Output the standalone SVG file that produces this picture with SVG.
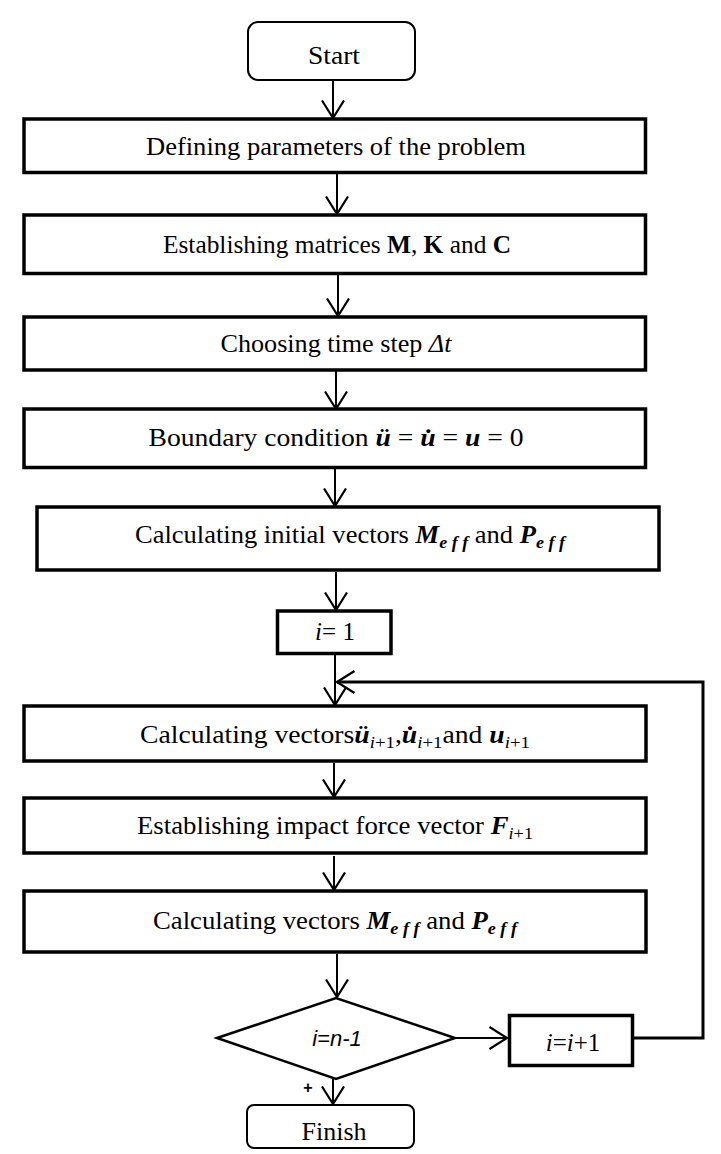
<svg xmlns="http://www.w3.org/2000/svg" width="721" height="1154" viewBox="0 0 721 1154">
<defs>
<style>
.box{fill:#fff;stroke:#000;stroke-width:3.5}
.rnd{fill:#fff;stroke:#000;stroke-width:2}
.dia{fill:#fff;stroke:#000;stroke-width:2.5}
.con{fill:none;stroke:#000;stroke-width:2}
.t{font-family:"Liberation Serif","Times New Roman",serif;font-size:25px;fill:#000;text-anchor:middle}
.m{font-weight:bold;font-style:italic}
.b{font-weight:bold}
.it{font-style:italic}
.sub{font-size:17px}
</style>
<marker id="ah" viewBox="0 0 20 24" refX="18.5" refY="12" markerWidth="20" markerHeight="24" markerUnits="userSpaceOnUse" orient="auto">
<path d="M1,1 L18.5,12 L1,23" fill="none" stroke="#000" stroke-width="2.2"/>
</marker>
</defs>
<g id="connectors">
<line class="con" x1="333" y1="81" x2="333" y2="118" marker-end="url(#ah)"/>
<line class="con" x1="337" y1="174" x2="337" y2="214" marker-end="url(#ah)"/>
<line class="con" x1="338" y1="275" x2="338" y2="316" marker-end="url(#ah)"/>
<line class="con" x1="336" y1="371" x2="336" y2="409" marker-end="url(#ah)"/>
<line class="con" x1="335" y1="469" x2="335" y2="506" marker-end="url(#ah)"/>
<line class="con" x1="336" y1="572" x2="336" y2="610" marker-end="url(#ah)"/>
<line class="con" x1="335" y1="655" x2="335" y2="705" marker-end="url(#ah)"/>
<line class="con" x1="334" y1="763" x2="334" y2="797" marker-end="url(#ah)"/>
<line class="con" x1="334" y1="856" x2="334" y2="890" marker-end="url(#ah)"/>
<line class="con" x1="337" y1="954" x2="337" y2="997" marker-end="url(#ah)"/>
<line class="con" x1="333" y1="1079" x2="333" y2="1104" marker-end="url(#ah)"/>
<line class="con" x1="455" y1="1038" x2="507" y2="1038" marker-end="url(#ah)"/>
<polyline class="con" points="634,1038 703,1038 703,682 337,682" style="stroke-width:3" marker-end="url(#ah)"/>
<text class="t" x="308" y="1093" style="font-size:16px;font-family:'Liberation Sans',Arial,sans-serif;font-weight:bold">+</text>
</g>
<g id="start">
<rect class="rnd" x="248" y="22" width="167" height="58" rx="10"/>
<text class="t" x="334" y="64" textLength="52" lengthAdjust="spacingAndGlyphs">Start</text>
</g>
<g id="defining">
<rect class="box" x="24" y="119" width="621.5" height="53.5"/>
<text class="t" x="336" y="155" textLength="380" lengthAdjust="spacingAndGlyphs">Defining parameters of the problem</text>
</g>
<g id="establishing">
<rect class="box" x="24" y="215" width="621.5" height="58.5"/>
<text class="t" x="337" y="253" textLength="348" lengthAdjust="spacingAndGlyphs">Establishing matrices <tspan class="b">M</tspan>, <tspan class="b">K</tspan> and <tspan class="b">C</tspan></text>
</g>
<g id="timestep">
<rect class="box" x="24" y="317" width="621.5" height="53"/>
<text class="t" x="336" y="352" textLength="231" lengthAdjust="spacingAndGlyphs">Choosing time step <tspan class="it">Δt</tspan></text>
</g>
<g id="boundary">
<rect class="box" x="24" y="409" width="621.5" height="58.5"/>
<text class="t" x="336" y="446" textLength="375" lengthAdjust="spacingAndGlyphs">Boundary condition <tspan class="m">ü</tspan> = <tspan class="m">u̇</tspan> = <tspan class="m">u</tspan> = 0</text>
</g>
<g id="initial">
<rect class="box" x="37" y="507" width="622" height="63"/>
<text class="t" x="350" y="543" textLength="430" lengthAdjust="spacingAndGlyphs">Calculating initial vectors <tspan class="m">M</tspan><tspan class="m sub" dy="5">e f f</tspan><tspan dy="-5"> and </tspan><tspan class="m">P</tspan><tspan class="m sub" dy="5">e f f</tspan></text>
</g>
<g id="i1">
<rect class="box" x="277.5" y="611" width="113.5" height="42.5"/>
<text class="t" x="335" y="640"><tspan class="it">i</tspan>= 1</text>
</g>
<g id="calcvec">
<rect class="box" x="24" y="706" width="622" height="55"/>
<text class="t" x="335" y="743" textLength="390" lengthAdjust="spacingAndGlyphs">Calculating vectors<tspan class="m">ü</tspan><tspan class="sub" dy="5"><tspan class="it">i</tspan>+1</tspan><tspan dy="-5">,</tspan><tspan class="m">u̇</tspan><tspan class="sub" dy="5"><tspan class="it">i</tspan>+1</tspan><tspan dy="-5">and </tspan><tspan class="m">u</tspan><tspan class="sub" dy="5"><tspan class="it">i</tspan>+1</tspan></text>
</g>
<g id="impact">
<rect class="box" x="24" y="798" width="622" height="55"/>
<text class="t" x="335" y="834" textLength="396" lengthAdjust="spacingAndGlyphs">Establishing impact force vector  <tspan class="m">F</tspan><tspan class="sub" dy="5"><tspan class="it">i</tspan>+1</tspan></text>
</g>
<g id="calcmp">
<rect class="box" x="24" y="891" width="622" height="61"/>
<text class="t" x="335" y="929" textLength="364" lengthAdjust="spacingAndGlyphs">Calculating vectors  <tspan class="m">M</tspan><tspan class="m sub" dy="5">e f f</tspan><tspan dy="-5"> and </tspan><tspan class="m">P</tspan><tspan class="m sub" dy="5">e f f</tspan></text>
</g>
<g id="decision">
<polygon class="dia" points="217,1038 336,998 455,1038 336,1079"/>
<text class="t it" x="337" y="1046" style="font-family:'Liberation Sans',Arial,sans-serif;font-size:22px">i=n-1</text>
</g>
<g id="increment">
<rect class="box" x="509.5" y="1015.5" width="123" height="50"/>
<text class="t" x="573" y="1051"><tspan class="it">i</tspan>=<tspan class="it">i</tspan>+1</text>
</g>
<g id="finish">
<rect class="rnd" x="247" y="1105" width="167" height="43" rx="7"/>
<text class="t" x="334" y="1140" textLength="65" lengthAdjust="spacingAndGlyphs">Finish</text>
</g>
</svg>
